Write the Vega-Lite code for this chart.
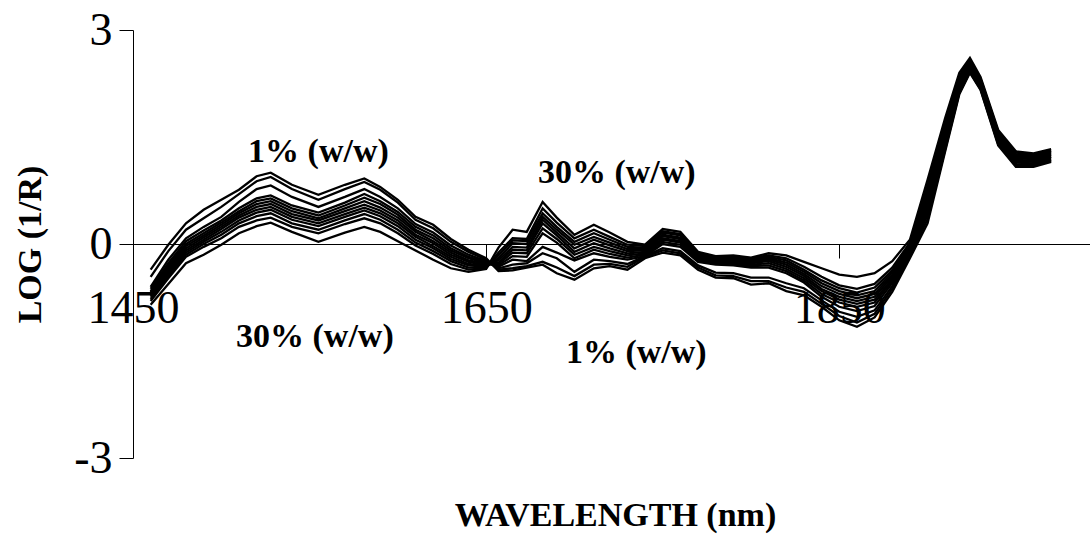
{
  "$schema": "https://vega.github.io/schema/vega-lite/v6.json",
  "width": 957,
  "height": 428,
  "autosize": "none",
  "padding": {"left": 133, "top": 30, "right": 0, "bottom": 85},
  "background": "white",
  "config": {"view": {"stroke": null}},
  "layer": [
    {
      "data": {"values": [
        {"w":1460,"c1":-0.36,"c2":-0.46,"c3":-0.6,"c4":-0.63,"c5":-0.66,"c6":-0.68,"c7":-0.7,"c8":-0.72,"c9":-0.74,"c10":-0.77,"c11":-0.8,"c12":-0.85},
        {"w":1470,"c1":-0.01,"c2":-0.1,"c3":-0.22,"c4":-0.27,"c5":-0.3,"c6":-0.33,"c7":-0.36,"c8":-0.39,"c9":-0.42,"c10":-0.45,"c11":-0.48,"c12":-0.56},
        {"w":1480,"c1":0.29,"c2":0.2,"c3":0.08,"c4":0.04,"c5":0.0,"c6":-0.03,"c7":-0.06,"c8":-0.09,"c9":-0.12,"c10":-0.15,"c11":-0.18,"c12":-0.27},
        {"w":1490,"c1":0.48,"c2":0.36,"c3":0.24,"c4":0.19,"c5":0.15,"c6":0.12,"c7":0.09,"c8":0.06,"c9":0.03,"c10":0.0,"c11":-0.04,"c12":-0.15},
        {"w":1500,"c1":0.62,"c2":0.52,"c3":0.38,"c4":0.33,"c5":0.3,"c6":0.27,"c7":0.24,"c8":0.21,"c9":0.17,"c10":0.13,"c11":0.08,"c12":-0.01},
        {"w":1510,"c1":0.76,"c2":0.7,"c3":0.59,"c4":0.5,"c5":0.46,"c6":0.43,"c7":0.4,"c8":0.37,"c9":0.33,"c10":0.29,"c11":0.24,"c12":0.15},
        {"w":1520,"c1":0.95,"c2":0.88,"c3":0.77,"c4":0.64,"c5":0.6,"c6":0.56,"c7":0.52,"c8":0.48,"c9":0.44,"c10":0.39,"c11":0.33,"c12":0.25},
        {"w":1528,"c1":1.0,"c2":0.94,"c3":0.82,"c4":0.68,"c5":0.64,"c6":0.6,"c7":0.56,"c8":0.52,"c9":0.48,"c10":0.43,"c11":0.37,"c12":0.3},
        {"w":1540,"c1":0.83,"c2":0.77,"c3":0.66,"c4":0.54,"c5":0.5,"c6":0.46,"c7":0.42,"c8":0.38,"c9":0.34,"c10":0.29,"c11":0.24,"c12":0.17},
        {"w":1555,"c1":0.69,"c2":0.62,"c3":0.52,"c4":0.44,"c5":0.4,"c6":0.36,"c7":0.33,"c8":0.29,"c9":0.25,"c10":0.2,"c11":0.15,"c12":0.03},
        {"w":1570,"c1":0.83,"c2":0.77,"c3":0.66,"c4":0.58,"c5":0.54,"c6":0.5,"c7":0.46,"c8":0.42,"c9":0.38,"c10":0.33,"c11":0.28,"c12":0.16},
        {"w":1581,"c1":0.92,"c2":0.87,"c3":0.77,"c4":0.7,"c5":0.65,"c6":0.6,"c7":0.55,"c8":0.51,"c9":0.47,"c10":0.42,"c11":0.36,"c12":0.24},
        {"w":1590,"c1":0.8,"c2":0.76,"c3":0.66,"c4":0.6,"c5":0.56,"c6":0.51,"c7":0.47,"c8":0.43,"c9":0.39,"c10":0.34,"c11":0.29,"c12":0.17},
        {"w":1600,"c1":0.62,"c2":0.58,"c3":0.5,"c4":0.45,"c5":0.41,"c6":0.37,"c7":0.33,"c8":0.29,"c9":0.25,"c10":0.2,"c11":0.15,"c12":0.04},
        {"w":1610,"c1":0.38,"c2":0.34,"c3":0.28,"c4":0.24,"c5":0.2,"c6":0.17,"c7":0.13,"c8":0.1,"c9":0.06,"c10":0.02,"c11":-0.02,"c12":-0.09},
        {"w":1620,"c1":0.27,"c2":0.22,"c3":0.16,"c4":0.12,"c5":0.08,"c6":0.04,"c7":0.01,"c8":-0.03,"c9":-0.06,"c10":-0.1,"c11":-0.14,"c12":-0.22},
        {"w":1630,"c1":0.07,"c2":0.03,"c3":-0.02,"c4":-0.06,"c5":-0.09,"c6":-0.12,"c7":-0.15,"c8":-0.18,"c9":-0.21,"c10":-0.24,"c11":-0.28,"c12":-0.34},
        {"w":1640,"c1":-0.08,"c2":-0.11,"c3":-0.15,"c4":-0.18,"c5":-0.2,"c6":-0.23,"c7":-0.25,"c8":-0.28,"c9":-0.3,"c10":-0.33,"c11":-0.36,"c12":-0.39},
        {"w":1650,"c1":-0.2,"c2":-0.22,"c3":-0.24,"c4":-0.25,"c5":-0.27,"c6":-0.28,"c7":-0.3,"c8":-0.31,"c9":-0.32,"c10":-0.33,"c11":-0.34,"c12":-0.35},
        {"w":1657,"c1":-0.38,"c2":-0.36,"c3":-0.34,"c4":-0.32,"c5":-0.3,"c6":-0.28,"c7":-0.26,"c8":-0.23,"c9":-0.2,"c10":-0.16,"c11":-0.12,"c12":-0.05},
        {"w":1665,"c1":-0.37,"c2":-0.34,"c3":-0.29,"c4":-0.22,"c5":-0.17,"c6":-0.12,"c7":-0.08,"c8":-0.04,"c9":0.01,"c10":0.05,"c11":0.08,"c12":0.2},
        {"w":1673,"c1":-0.33,"c2":-0.31,"c3":-0.27,"c4":-0.24,"c5":-0.18,"c6":-0.13,"c7":-0.09,"c8":-0.05,"c9":0.0,"c10":0.04,"c11":0.07,"c12":0.17},
        {"w":1682,"c1":-0.29,"c2":-0.25,"c3":-0.13,"c4":-0.04,"c5":0.15,"c6":0.22,"c7":0.29,"c8":0.34,"c9":0.38,"c10":0.43,"c11":0.5,"c12":0.59},
        {"w":1690,"c1":-0.41,"c2":-0.33,"c3":-0.2,"c4":-0.12,"c5":0.02,"c6":0.07,"c7":0.12,"c8":0.16,"c9":0.2,"c10":0.24,"c11":0.3,"c12":0.37},
        {"w":1700,"c1":-0.5,"c2":-0.45,"c3":-0.39,"c4":-0.23,"c5":-0.2,"c6":-0.15,"c7":-0.11,"c8":-0.06,"c9":-0.01,"c10":0.03,"c11":0.08,"c12":0.13},
        {"w":1711,"c1":-0.34,"c2":-0.29,"c3":-0.22,"c4":-0.13,"c5":-0.08,"c6":-0.04,"c7":0.01,"c8":0.06,"c9":0.1,"c10":0.15,"c11":0.2,"c12":0.27},
        {"w":1720,"c1":-0.31,"c2":-0.28,"c3":-0.24,"c4":-0.18,"c5":-0.14,"c6":-0.1,"c7":-0.06,"c8":-0.02,"c9":0.02,"c10":0.06,"c11":0.1,"c12":0.16},
        {"w":1730,"c1":-0.36,"c2":-0.32,"c3":-0.28,"c4":-0.22,"c5":-0.19,"c6":-0.16,"c7":-0.13,"c8":-0.1,"c9":-0.07,"c10":-0.04,"c11":-0.01,"c12":0.03},
        {"w":1740,"c1":-0.2,"c2":-0.18,"c3":-0.17,"c4":-0.17,"c5":-0.15,"c6":-0.13,"c7":-0.11,"c8":-0.09,"c9":-0.07,"c10":-0.05,"c11":-0.03,"c12":-0.01},
        {"w":1750,"c1":-0.12,"c2":-0.09,"c3":-0.06,"c4":0.0,"c5":0.03,"c6":0.06,"c7":0.08,"c8":0.11,"c9":0.13,"c10":0.16,"c11":0.18,"c12":0.21},
        {"w":1760,"c1":-0.16,"c2":-0.13,"c3":-0.1,"c4":-0.04,"c5":-0.01,"c6":0.02,"c7":0.04,"c8":0.07,"c9":0.09,"c10":0.12,"c11":0.14,"c12":0.17},
        {"w":1770,"c1":-0.36,"c2":-0.33,"c3":-0.3,"c4":-0.25,"c5":-0.23,"c6":-0.21,"c7":-0.19,"c8":-0.17,"c9":-0.16,"c10":-0.14,"c11":-0.12,"c12":-0.11},
        {"w":1780,"c1":-0.47,"c2":-0.44,"c3":-0.4,"c4":-0.29,"c5":-0.27,"c6":-0.26,"c7":-0.24,"c8":-0.23,"c9":-0.21,"c10":-0.2,"c11":-0.18,"c12":-0.17},
        {"w":1790,"c1":-0.48,"c2":-0.45,"c3":-0.41,"c4":-0.3,"c5":-0.28,"c6":-0.26,"c7":-0.24,"c8":-0.22,"c9":-0.21,"c10":-0.19,"c11":-0.18,"c12":-0.16},
        {"w":1800,"c1":-0.57,"c2":-0.52,"c3":-0.47,"c4":-0.33,"c5":-0.31,"c6":-0.29,"c7":-0.27,"c8":-0.25,"c9":-0.23,"c10":-0.22,"c11":-0.2,"c12":-0.19},
        {"w":1810,"c1":-0.55,"c2":-0.52,"c3":-0.47,"c4":-0.33,"c5":-0.3,"c6":-0.27,"c7":-0.24,"c8":-0.22,"c9":-0.2,"c10":-0.18,"c11":-0.16,"c12":-0.13},
        {"w":1820,"c1":-0.66,"c2":-0.61,"c3":-0.55,"c4":-0.41,"c5":-0.38,"c6":-0.35,"c7":-0.32,"c8":-0.29,"c9":-0.26,"c10":-0.23,"c11":-0.2,"c12":-0.16},
        {"w":1830,"c1":-0.72,"c2":-0.67,"c3":-0.62,"c4":-0.54,"c5":-0.51,"c6":-0.48,"c7":-0.45,"c8":-0.42,"c9":-0.39,"c10":-0.36,"c11":-0.32,"c12":-0.25},
        {"w":1840,"c1":-0.88,"c2":-0.84,"c3":-0.79,"c4":-0.74,"c5":-0.7,"c6":-0.66,"c7":-0.63,"c8":-0.59,"c9":-0.55,"c10":-0.51,"c11":-0.46,"c12":-0.34},
        {"w":1850,"c1":-1.07,"c2":-1.01,"c3":-0.95,"c4":-0.88,"c5":-0.82,"c6":-0.78,"c7":-0.74,"c8":-0.7,"c9":-0.66,"c10":-0.62,"c11":-0.58,"c12":-0.43},
        {"w":1860,"c1":-1.16,"c2":-1.1,"c3":-1.02,"c4":-0.94,"c5":-0.88,"c6":-0.84,"c7":-0.8,"c8":-0.76,"c9":-0.72,"c10":-0.68,"c11":-0.63,"c12":-0.46},
        {"w":1870,"c1":-1.03,"c2":-0.98,"c3":-0.93,"c4":-0.87,"c5":-0.82,"c6":-0.78,"c7":-0.74,"c8":-0.7,"c9":-0.66,"c10":-0.61,"c11":-0.56,"c12":-0.41},
        {"w":1880,"c1":-0.67,"c2":-0.63,"c3":-0.59,"c4":-0.55,"c5":-0.52,"c6":-0.49,"c7":-0.46,"c8":-0.43,"c9":-0.4,"c10":-0.37,"c11":-0.33,"c12":-0.24},
        {"w":1890,"c1":-0.2,"c2":-0.17,"c3":-0.14,"c4":-0.12,"c5":-0.1,"c6":-0.08,"c7":-0.06,"c8":-0.04,"c9":-0.02,"c10":0.0,"c11":0.02,"c12":0.06},
        {"w":1900,"c1":0.29,"c2":0.35,"c3":0.41,"c4":0.46,"c5":0.51,"c6":0.56,"c7":0.61,"c8":0.66,"c9":0.71,"c10":0.76,"c11":0.82,"c12":0.9},
        {"w":1910,"c1":1.3,"c2":1.33,"c3":1.36,"c4":1.4,"c5":1.44,"c6":1.48,"c7":1.52,"c8":1.56,"c9":1.6,"c10":1.64,"c11":1.7,"c12":1.77},
        {"w":1918,"c1":2.1,"c2":2.12,"c3":2.14,"c4":2.16,"c5":2.18,"c6":2.21,"c7":2.24,"c8":2.27,"c9":2.3,"c10":2.33,"c11":2.36,"c12":2.4},
        {"w":1924,"c1":2.4,"c2":2.41,"c3":2.43,"c4":2.45,"c5":2.46,"c6":2.48,"c7":2.5,"c8":2.52,"c9":2.54,"c10":2.56,"c11":2.58,"c12":2.61},
        {"w":1930,"c1":2.16,"c2":2.17,"c3":2.19,"c4":2.2,"c5":2.22,"c6":2.23,"c7":2.25,"c8":2.27,"c9":2.28,"c10":2.3,"c11":2.32,"c12":2.34},
        {"w":1940,"c1":1.38,"c2":1.4,"c3":1.42,"c4":1.44,"c5":1.46,"c6":1.48,"c7":1.5,"c8":1.52,"c9":1.54,"c10":1.56,"c11":1.58,"c12":1.6},
        {"w":1950,"c1":1.08,"c2":1.1,"c3":1.12,"c4":1.14,"c5":1.16,"c6":1.18,"c7":1.2,"c8":1.22,"c9":1.24,"c10":1.26,"c11":1.28,"c12":1.3},
        {"w":1960,"c1":1.08,"c2":1.1,"c3":1.11,"c4":1.13,"c5":1.15,"c6":1.17,"c7":1.19,"c8":1.2,"c9":1.22,"c10":1.24,"c11":1.25,"c12":1.27},
        {"w":1970,"c1":1.15,"c2":1.17,"c3":1.18,"c4":1.2,"c5":1.22,"c6":1.23,"c7":1.25,"c8":1.26,"c9":1.28,"c10":1.3,"c11":1.31,"c12":1.33}
      ]},
      "transform": [{"fold": ["c1","c2","c3","c4","c5","c6","c7","c8","c9","c10","c11","c12"], "as": ["s", "value"]}],
      "mark": {"type": "line", "color": "black", "strokeWidth": 2.3},
      "encoding": {
        "x": {"field": "w", "type": "quantitative",
          "scale": {"domain": [1450, 1992], "nice": false, "zero": false},
          "axis": {"values": [1450, 1650, 1850], "offset": -214, "grid": false, "tickSize": 14,
            "labelExpr": "'' + datum.value",
            "labelFont": "Liberation Serif", "labelFontSize": 46, "labelPadding": 28, "labelColor": "black",
            "labelFlush": false, "labelOverlap": false, "labelBound": false,
            "domainColor": "black", "tickColor": "black", "domainWidth": 1, "tickWidth": 1,
            "title": "WAVELENGTH (nm)", "titleFont": "Liberation Serif", "titleFontWeight": "bold", "titleFontSize": 34,
            "titleColor": "black", "titleX": 482, "titleY": 281, "titleAlign": "center", "titleBaseline": "alphabetic"}},
        "y": {"field": "value", "type": "quantitative",
          "scale": {"domain": [-3, 3], "nice": false},
          "axis": {"values": [-3, 0, 3], "grid": false, "tickSize": 14,
            "labelExpr": "'' + datum.value",
            "labelFont": "Liberation Serif", "labelFontSize": 46, "labelPadding": 7, "labelColor": "black",
            "labelFlush": false, "labelOverlap": false, "labelBound": false,
            "domainColor": "black", "tickColor": "black",
            "title": "LOG (1/R)", "titleFont": "Liberation Serif", "titleFontWeight": "bold", "titleFontSize": 34,
            "titleColor": "black", "titleAngle": -90, "titleX": -103, "titleY": 214, "titleAlign": "center", "titleBaseline": "middle"}},
        "detail": {"field": "s", "type": "nominal"}
      }
    },
    {
      "data": {"values": [
        {"w": 1555, "v": 1.15, "t": "1% (w/w)"},
        {"w": 1724, "v": 0.855, "t": "30% (w/w)"},
        {"w": 1553, "v": -1.444, "t": "30% (w/w)"},
        {"w": 1735, "v": -1.668, "t": "1% (w/w)"}
      ]},
      "mark": {"type": "text", "font": "Liberation Serif", "fontWeight": "bold", "fontSize": 34, "align": "center", "baseline": "alphabetic", "color": "black"},
      "encoding": {
        "x": {"field": "w", "type": "quantitative"},
        "y": {"field": "v", "type": "quantitative"},
        "text": {"field": "t"}
      }
    }
  ]
}
